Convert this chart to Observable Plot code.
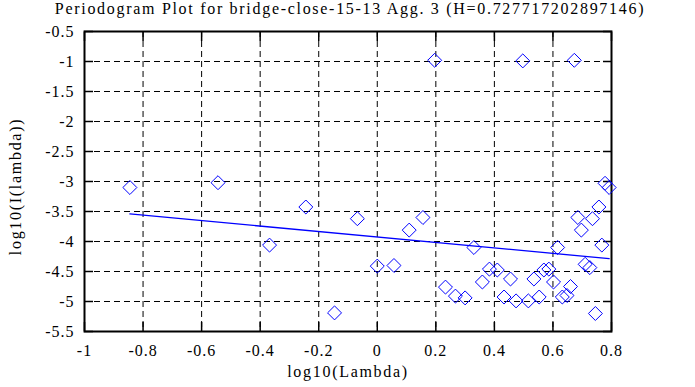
<!DOCTYPE html>
<html>
<head>
<meta charset="utf-8">
<script src="https://cdn.jsdelivr.net/npm/d3@7"></script>
<script src="https://cdn.jsdelivr.net/npm/@observablehq/plot@0.6"></script>
<style>
  html, body { margin: 0; padding: 0; background: #fff; }
</style>
</head>
<body>
<div id="chart"></div>
<script>
const title = "Periodogram Plot for bridge-close-15-13 Agg. 3 (H=0.727717202897146)";
const xLabel = "log10(Lambda)";
const yLabel = "log10(I(lambda))";
const H = 0.727717202897146;
const fitSlope = 1 - 2 * H;
const fitIntercept = -3.925;

const logLambda = [
  -0.845, -0.544, -0.368, -0.244, -0.146, -0.068, 0.000, 0.057, 0.109, 0.156,
  0.196, 0.233, 0.267, 0.300, 0.330, 0.359, 0.383, 0.410, 0.433, 0.455,
  0.474, 0.497, 0.516, 0.535, 0.553, 0.569, 0.586, 0.602, 0.616, 0.632,
  0.648, 0.660, 0.673, 0.685, 0.697, 0.710, 0.726, 0.735, 0.745, 0.757,
  0.767, 0.778, 0.792
];
const logI = [
  -3.10, -3.02, -4.06, -3.425, -5.19, -3.62, -4.41, -4.40, -3.81, -3.60,
  -0.98, -4.76, -4.91, -4.94, -4.10, -4.675, -4.46, -4.475, -4.925, -4.625,
  -4.99, -0.99, -4.99, -4.625, -4.925, -4.475, -4.46, -4.675, -4.10, -4.925,
  -4.90, -4.75, -0.98, -3.60, -3.81, -4.38, -4.435, -3.62, -5.20, -3.425,
  -4.06, -3.03, -3.10
];
const xTicks = [-1, -0.8, -0.6, -0.4, -0.2, 0, 0.2, 0.4, 0.6, 0.8];
const yTicks = [-0.5, -1, -1.5, -2, -2.5, -3, -3.5, -4, -4.5, -5, -5.5];

const points = logLambda.map((x, i) => ({x, y: logI[i]}));
const xMin = d3.min(logLambda), xMax = d3.max(logLambda);
const fitLine = [xMin, xMax].map(x => ({x, y: fitIntercept + fitSlope * x}));

const blue = "#0000ff";
const serif = "Liberation Serif";
const fmt = d => String(d);

const chart = Plot.plot({
  width: 695,
  height: 387,
  marginLeft: 84,
  marginRight: 84,
  marginTop: 31,
  marginBottom: 56,
  style: {fontFamily: serif, fontSize: "16px", background: "#fff", color: "#000", letterSpacing: "1.7px"},
  x: {domain: [-1, 0.8], ticks: xTicks},
  y: {domain: [-5.5, -0.5], ticks: yTicks},
  marks: [
    Plot.gridX(xTicks, {stroke: "#000", strokeOpacity: 1, strokeWidth: 1, strokeDasharray: "6,4"}),
    Plot.gridY(yTicks, {stroke: "#000", strokeOpacity: 1, strokeWidth: 1, strokeDasharray: "6,4"}),
    Plot.axisX(xTicks, {anchor: "bottom", tickSize: 0, tickPadding: 13, tickFormat: fmt, fontSize: 16, fontFamily: serif, label: null}),
    Plot.axisX(xTicks, {anchor: "bottom", tickSize: -9, text: null, label: null, strokeWidth: 1.5}),
    Plot.axisX(xTicks, {anchor: "top", tickSize: -9, text: null, label: null, strokeWidth: 1.5}),
    Plot.axisY(yTicks, {anchor: "left", tickSize: 0, tickPadding: 10, tickFormat: fmt, fontSize: 16, fontFamily: serif, label: null}),
    Plot.axisY(yTicks, {anchor: "left", tickSize: -9, text: null, label: null, strokeWidth: 1.5}),
    Plot.axisY(yTicks, {anchor: "right", tickSize: -9, text: null, label: null, strokeWidth: 1.5}),
    Plot.frame({stroke: "#000", strokeWidth: 2}),
    Plot.line(fitLine, {x: "x", y: "y", stroke: blue, strokeWidth: 1.3}),
    Plot.dot(points, {x: "x", y: "y", symbol: "diamond2", r: 6.3, stroke: blue, strokeWidth: 1, fill: "none"}),
    Plot.text([title], {frameAnchor: "top", lineAnchor: "middle", textAnchor: "middle", dx: 2, dy: -23, fontSize: 16, fontFamily: serif, fill: "#000"}),
    Plot.text([xLabel], {frameAnchor: "bottom", lineAnchor: "middle", textAnchor: "middle", dy: 40, fontSize: 16, fontFamily: serif, fill: "#000"}),
    Plot.text([yLabel], {frameAnchor: "left", lineAnchor: "middle", textAnchor: "middle", dx: -69, dy: 5, rotate: -90, fontSize: 16, fontFamily: serif, fill: "#000"})
  ]
});
chart.setAttribute("font-family", serif);
chart.querySelectorAll("g[aria-label='x-axis tick label'], g[aria-label='y-axis tick label']").forEach(g => {
  g.style.letterSpacing = "1px";
});
document.getElementById("chart").appendChild(chart);
</script>
</body>
</html>
